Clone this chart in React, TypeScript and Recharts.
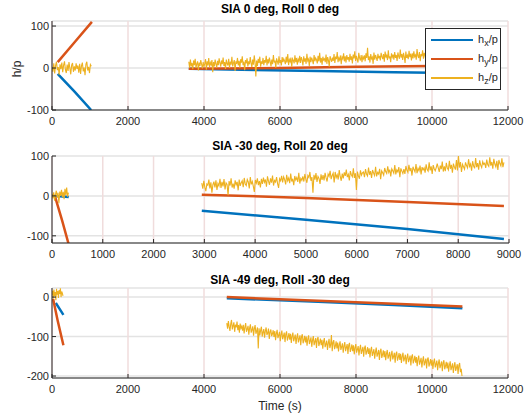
import React from 'react';
import { LineChart, Line, XAxis, YAxis, CartesianGrid } from 'recharts';

const BLUE = '#0072BD';
const ORANGE = '#D95319';
const YELLOW = '#EDB120';
const FONT = '"Liberation Sans", Arial, Helvetica, sans-serif';

const titles = ['SIA 0 deg, Roll 0 deg', 'SIA -30 deg, Roll 20 deg', 'SIA -49 deg, Roll -30 deg'];
const ticksX12 = [0, 2000, 4000, 6000, 8000, 10000, 12000];
const ticksX9 = [0, 1000, 2000, 3000, 4000, 5000, 6000, 7000, 8000, 9000];
const ticksY1 = [-100, 0, 100];
const ticksY3 = [-200, -100, 0];

// straight-ish segments: [time, value]
const p1hxA = [[150, -14], [600, -57], [1030, -100]];
const p1hyA = [[150, 14], [600, 62], [1050, 110]];
const p1hxB = [[3600, -2], [5000, -4], [7000, -7], [9000, -10], [10000, -11]];
const p1hyB = [[3600, -2], [6000, 0], [8000, 3], [10000, 5]];

const p2hxA = [[0, 0], [150, -1], [330, -3]];
const p2hyA = [[60, -2], [200, -62], [330, -122]];
const p2hxB = [[2950, -37], [5000, -60], [7000, -83], [8900, -108]];
const p2hyB = [[2950, 3], [5000, -5], [7000, -15], [8900, -25]];

const p3hxA = [[100, -15], [200, -30], [300, -45]];
const p3hyA = [[30, -5], [150, -60], [300, -122]];
const p3hxB = [[4600, -3], [7000, -12], [9000, -20], [10800, -28]];
const p3hyB = [[4600, 0], [7000, -9], [9000, -17], [10800, -24]];

// noisy h_z samples: start time, step, values
const p1hzA = {
  start: 0, step: 23.5, values: [
    3, -9, 11, -13, 6, 15, -5, 2, -16, 9, -3, 13, -10, 7, 16, -4, -12, 8, -7, 14, 0, -15, 7,
    12, -9, 4, -6, 11, -2, 6, -11, 10, -14, 5, 13, -8, 1, -17, 9, 15, -6, 3, -12, 8, 4],
};
const p1hzB = {
  start: 3600, step: 21, values: [
    15, 1, 20, 4, 12, -3, 18, 7, 22, 0, 10, 16, -6, 13, 5, 19, 9, -1, 14, 3,
    11, 21, -4, 16, 6, 24, 2, 13, 8, 19, -10, 14, 4, 20, 10, 1, 17, 7, 23, 12,
    3, 18, 9, 25, 5, 14, -2, 20, 11, 6, 22, 0, 15, 8, 27, 4, 12, 19, -7, 16,
    10, 24, 6, 17, 1, 21, 13, 28, 7, 15, -5, 19, 11, 23, 4, 16, 9, 26, 12, 2,
    20, 8, 30, 14, -20, 18, 5, 22, 12, 27, 3, 16, 10, 24, 7, 19, 13, 29, 6, 21,
    11, 25, 15, 4, 20, 9, 31, 13, 18, 1, 23, 16, 8, 28, 12, 19, 6, 26, 14, 22,
    17, 9, 27, 13, 33, 7, 20, 15, 25, 3, 22, 18, 11, 30, 14, 24, 8, 21, 16, 29,
    12, 26, 19, 6, 28, 15, 23, 10, 34, 17, 21, 5, 27, 14, 25, 18, 9, 31, 16, 24,
    20, 11, 29, 16, 36, 13, 24, 8, 27, 19, 22, 14, 32, 10, 26, 18, 3, 28, 21, 15,
    25, 17, 33, 12, 27, 21, 38, 14, 24, 19, 30, 9, 26, 22, 35, 16, 28, 13, 31, 20,
    26, 15, 34, 19, 28, 11, 32, 23, 40, 17, 29, 21, 13, 36, 24, 18, 31, 14, 27, 22,
    30, 16, 35, 24, 48, 19, 28, 13, 33, 22, 26, 10, 37, 20, 31, 25, 17, 34, 23, 29,
    18, 36, 27, 21, 33, 15, 39, 25, 30, 19, 42, 23, 28, 14, 35, 26, 32, 20, 38, 24,
    31, 17, 37, 28, 22, 44, 25, 33, 19, 36, 27, 12, 39, 24, 30, 21, 41, 26, 34, 18,
    35, 23, 40, 27, 31, 20, 45, 29, 24, 38, 16, 33, 28, 42, 22, 36, 30, 19, 39, 26],
};
const p2hzA = { start: 0, step: 17, values: [5, -6, 9, -12, 3, 13, -4, 8, -18, 11, 0, 15, -3, 10, -8, 18, 2, 21, -2, 8] };
const p2hzB = {
  start: 2950, step: 19.9, values: [
    32, 18, 38, 22, 12, 30, 27, 41, 19, 34, 8, 28, 36, 21, 39, 15, 31, 25, 43, 20,
    35, 24, 42, 16, 33, 29, 2, 37, 26, 44, 21, 31, 18, 39, 28, 35, 14, 41, 25, 33,
    38, 22, 45, 30, 26, 41, 35, 19, 47, 29, 36, 24, 10, 40, 32, 44, 27, 37, 21, 43,
    30, 46, 34, 41, 23, 49, 37, 28, 44, 33, 51, 26, 39, 35, 47, 31, 20, 43, 38, 50,
    34, 48, 41, 29, 53, 38, 45, 32, 56, 36, 43, 27, 50, 40, 46, 35, 58, 31, 44, 39,
    49, 36, 55, 42, 33, 51, 46, 60, 38, 47, 8, 53, 41, 57, 35, 49, 44, 30, 54, 40,
    52, 39, 58, 45, 36, 55, 49, 63, 42, 51, 57, 34, 60, 46, 53, 41, 65, 48, 38, 56,
    44, 59, 50, 66, 47, 54, 39, 62, 53, 48, 69, 45, 57, 15, 61, 50, 43, 64, 52, 58,
    60, 47, 67, 55, 50, 71, 53, 62, 45, 65, 57, 51, 73, 49, 59, 55, 68, 42, 63, 58,
    52, 70, 61, 56, 74, 59, 66, 49, 68, 63, 57, 77, 54, 65, 60, 72, 47, 69, 62, 56,
    67, 55, 75, 64, 59, 78, 62, 70, 51, 73, 66, 60, 80, 57, 69, 63, 76, 54, 72, 65,
    70, 58, 79, 66, 62, 84, 64, 74, 55, 77, 68, 63, 71, 81, 70, 60, 76, 67, 86, 61,
    74, 62, 83, 70, 65, 88, 68, 78, 58, 81, 72, 66, 90, 64, 100, 71, 85, 60, 79, 73,
    67, 84, 76, 70, 92, 74, 80, 63, 87, 75, 69, 95, 72, 82, 66, 89, 77, 71, 86, 79,
    82, 70, 91, 78, 74, 97, 76, 85, 68, 93, 80, 73, 88, 65, 90, 81, 75, 94, 72, 84],
};
const p3hzA = { start: 0, step: 17, values: [5, 16, -4, 19, 2, 13, -8, 21, 6, 15, -2, 18, 8, 22, 0, 14, 10, 3] };
const p3hzB = {
  start: 4600, step: 20.7, values: [
    -66, -80, -61, -75, -86, -68, -58, -82, -73, -64, -88, -70, -77, -62, -84, -71, -90, -67, -79, -74,
    -85, -70, -92, -76, -66, -88, -81, -73, -95, -78, -69, -90, -83, -74, -98, -80, -71, -93, -86, -77,
    -130, -79, -97, -84, -75, -100, -89, -81, -103, -86, -77, -96, -91, -80, -106, -88, -82, -99, -93, -84,
    -101, -86, -109, -92, -83, -104, -97, -88, -112, -95, -85, -107, -99, -90, -114, -94, -87, -110, -102, -91,
    -108, -93, -116, -99, -90, -112, -104, -95, -119, -102, -92, -115, -106, -97, -122, -100, -94, -117, -109, -98,
    -115, -100, -123, -106, -97, -119, -111, -102, -126, -109, -99, -122, -113, -104, -129, -107, -101, -124, -116, -105,
    -122, -108, -131, -113, -104, -127, -119, -110, -134, -117, -106, -129, -121, -96, -137, -115, -109, -132, -124, -112,
    -130, -115, -138, -121, -112, -134, -126, -117, -141, -124, -114, -137, -128, -119, -144, -122, -116, -139, -131, -120,
    -137, -122, -145, -128, -119, -141, -133, -124, -148, -131, -121, -144, -135, -126, -151, -129, -123, -146, -138, -127,
    -144, -130, -153, -135, -126, -149, -141, -132, -156, -139, -128, -151, -143, -134, -159, -137, -131, -154, -146, -135,
    -152, -137, -160, -143, -134, -156, -148, -139, -163, -146, -136, -158, -150, -141, -166, -144, -138, -161, -153, -142,
    -159, -144, -167, -150, -141, -163, -155, -146, -170, -153, -143, -165, -157, -148, -173, -151, -145, -168, -160, -149,
    -166, -152, -175, -157, -148, -171, -163, -154, -178, -161, -150, -173, -165, -156, -181, -158, -153, -176, -168, -157,
    -174, -159, -182, -165, -156, -178, -170, -161, -185, -168, -158, -180, -172, -163, -188, -166, -160, -183, -175, -164,
    -181, -166, -189, -172, -163, -185, -177, -168, -192, -175, -165, -187, -179, -170, -195, -173, -167, -190, -182, -200],
};

const pairs = (arr: number[][]) => arr.map(([t, v]) => ({ t, v }));
const noisy = (s: { start: number; step: number; values: number[] }) =>
  s.values.map((v, i) => ({ t: s.start + i * s.step, v }));

const XTick = (props: any) => {
  const { x, y, payload } = props;
  return (
    <g>
      <line x1={x} y1={y} x2={x} y2={y - 4} stroke="#262626" />
      <text x={x} y={y + 15} textAnchor="middle" fill="#262626" fontSize={11} fontFamily={FONT}>
        {payload.value}
      </text>
    </g>
  );
};

const YTick = (props: any) => {
  const { x, y, payload } = props;
  return (
    <g>
      <line x1={x} y1={y} x2={x + 4} y2={y} stroke="#262626" />
      <text x={x - 3} y={y + 4} textAnchor="end" fill="#262626" fontSize={11} fontFamily={FONT}>
        {payload.value}
      </text>
    </g>
  );
};

interface PanelProps {
  top: number;
  height: number;
  mt: number;
  mb: number;
  right: number;
  xMax: number;
  xTicks: number[];
  yDomain: number[];
  yTicks: number[];
  segs: { color: string; data: { t: number; v: number }[]; w: number }[];
}

const Panel = ({ top, height, mt, mb, right, xMax, xTicks, yDomain, yTicks, segs }: PanelProps) => (
  <div style={{ position: 'absolute', left: 0, top }}>
    <LineChart width={527} height={height} margin={{ top: mt, right: 527 - right, bottom: mb, left: 0 }}>
      <CartesianGrid horizontal={true} vertical={false} stroke="#e3e3e3" strokeWidth={1.5} />
      <CartesianGrid horizontal={false} vertical={true} stroke="#f0dcdc" strokeWidth={1.5} />
      <XAxis
        dataKey="t"
        type="number"
        domain={[0, xMax]}
        ticks={xTicks}
        allowDataOverflow
        height={20}
        tickSize={0}
        tickMargin={0}
        stroke="#262626"
        tick={<XTick />}
        interval={0}
      />
      <YAxis
        dataKey="v"
        type="number"
        domain={yDomain}
        ticks={yTicks}
        allowDataOverflow
        width={52}
        tickSize={0}
        tickMargin={0}
        stroke="#262626"
        tick={<YTick />}
        interval={0}
      />
      {segs.map((s, i) => (
        <Line
          key={i}
          data={s.data}
          dataKey="v"
          stroke={s.color}
          strokeWidth={s.w}
          dot={false}
          type="linear"
          isAnimationActive={false}
        />
      ))}
    </LineChart>
  </div>
);

const Title = ({ text, y }: { text: string; y: number }) => (
  <div
    style={{
      position: 'absolute', left: 280 - 150, width: 300, top: y, textAlign: 'center',
      fontFamily: FONT, fontWeight: 'bold', fontSize: 12, color: '#000', lineHeight: '14px',
    }}
  >
    {text}
  </div>
);

const LegendRow = ({ color, sub, y }: { color: string; sub: string; y: number }) => (
  <div style={{ position: 'absolute', left: 0, top: y, height: 16, width: 76 }}>
    <div style={{ position: 'absolute', left: 5, top: 7, width: 42, height: 1.5, background: color }} />
    <div style={{ position: 'absolute', left: 52, top: 0, fontFamily: FONT, fontSize: 11, color: '#262626', lineHeight: '14px' }}>
      h<sub style={{ fontSize: 9, verticalAlign: '-3px' }}>{sub}</sub>/p
    </div>
  </div>
);

export default function App() {
  return (
    <div style={{ position: 'absolute', left: 0, top: 0, width: 527, height: 416, background: '#fff' }}>
      <Panel
        top={0} height={135} mt={21} mb={5} right={508} xMax={12000} xTicks={ticksX12}
        yDomain={[-100, 112]} yTicks={ticksY1}
        segs={[
          { color: BLUE, data: pairs(p1hxA), w: 2.5 },
          { color: ORANGE, data: pairs(p1hyA), w: 2.5 },
          { color: YELLOW, data: noisy(p1hzA), w: 1.1 },
          { color: BLUE, data: pairs(p1hxB), w: 2.5 },
          { color: ORANGE, data: pairs(p1hyB), w: 2.5 },
          { color: YELLOW, data: noisy(p1hzB), w: 1.1 },
        ]}
      />
      <Panel
        top={135} height={135} mt={21} mb={7} right={509} xMax={9000} xTicks={ticksX9}
        yDomain={[-118, 100]} yTicks={ticksY1}
        segs={[
          { color: BLUE, data: pairs(p2hxA), w: 2.5 },
          { color: ORANGE, data: pairs(p2hyA), w: 2.5 },
          { color: YELLOW, data: noisy(p2hzA), w: 1.1 },
          { color: BLUE, data: pairs(p2hxB), w: 2.5 },
          { color: ORANGE, data: pairs(p2hyB), w: 2.5 },
          { color: YELLOW, data: noisy(p2hzB), w: 1.1 },
        ]}
      />
      <Panel
        top={270} height={146} mt={18} mb={18} right={508} xMax={12000} xTicks={ticksX12}
        yDomain={[-205, 23]} yTicks={ticksY3}
        segs={[
          { color: BLUE, data: pairs(p3hxA), w: 2.5 },
          { color: ORANGE, data: pairs(p3hyA), w: 2.5 },
          { color: YELLOW, data: noisy(p3hzA), w: 1.1 },
          { color: BLUE, data: pairs(p3hxB), w: 2.5 },
          { color: ORANGE, data: pairs(p3hyB), w: 2.5 },
          { color: YELLOW, data: noisy(p3hzB), w: 1.1 },
        ]}
      />
      <Title text={titles[0]} y={2} />
      <Title text={titles[1]} y={139} />
      <Title text={titles[2]} y={273} />
      <div
        style={{
          position: 'absolute', left: 280 - 50, width: 100, top: 399, textAlign: 'center',
          fontFamily: FONT, fontSize: 12, color: '#262626', lineHeight: '14px',
        }}
      >
        Time (s)
      </div>
      <div
        style={{
          position: 'absolute', left: 7, top: 62, transform: 'rotate(-90deg)', transformOrigin: 'center',
          fontFamily: FONT, fontSize: 12, color: '#262626', lineHeight: '14px', width: 20, textAlign: 'center',
        }}
      >
        h/p
      </div>
      <div
        style={{
          position: 'absolute', left: 425, top: 28, width: 76, height: 62, background: '#fff',
          border: '1px solid #262626', boxSizing: 'border-box',
        }}
      >
        <LegendRow color={BLUE} sub="x" y={3} />
        <LegendRow color={ORANGE} sub="y" y={22} />
        <LegendRow color={YELLOW} sub="z" y={41} />
      </div>
    </div>
  );
}
